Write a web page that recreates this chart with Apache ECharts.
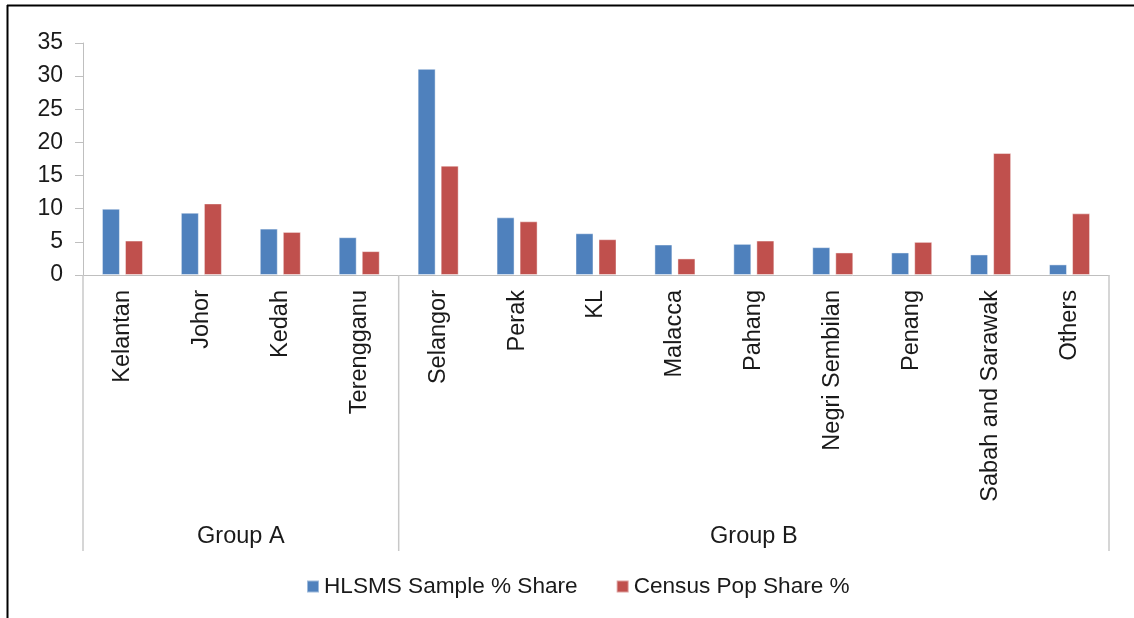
<!DOCTYPE html>
<html>
<head>
<meta charset="utf-8">
<script src="https://cdn.jsdelivr.net/npm/echarts@6/dist/echarts.min.js"></script>
<style>
html,body{margin:0;padding:0;background:#fff;}
#main{width:1134px;height:618px;}
</style>
</head>
<body>
<div id="main"></div>
<script>
// ---- data ----
var categories = ['Kelantan','Johor','Kedah','Terengganu','Selangor','Perak','KL','Malacca','Pahang','Negri Sembilan','Penang','Sabah and Sarawak','Others'];
var hlsmsShare = [10.0, 9.4, 7.0, 5.7, 31.1, 8.7, 6.3, 4.6, 4.7, 4.2, 3.4, 3.1, 1.6];
var censusShare = [5.2, 10.8, 6.5, 3.6, 16.5, 8.1, 5.4, 2.5, 5.2, 3.4, 5.0, 18.4, 9.3];
var seriesNames = ['HLSMS Sample % Share', 'Census Pop Share %'];
var groupNames = ['Group A', 'Group B'];
var groupBounds = [0, 4, 13];
var yTicks = [0, 5, 10, 15, 20, 25, 30, 35];

var FONT = '"Liberation Sans", Arial, sans-serif';
var chart = echarts.init(document.getElementById('main'), null, {renderer: 'canvas'});

// custom data for group separators and labels
var sepData = groupBounds.map(function (b) { return [b, 0]; });
var labelData = groupNames.map(function (n, i) { return [(groupBounds[i] + groupBounds[i + 1]) / 2, 0, n]; });

var option = {
  backgroundColor: '#ffffff',
  animation: false,
  grid: {left: 83, right: 25, top: 43, bottom: 343, containLabel: false},
  legend: {
    data: seriesNames,
    left: 301,
    top: 570,
    icon: 'rect',
    itemWidth: 12,
    itemHeight: 12,
    itemGap: 38,
    textStyle: {fontFamily: FONT, fontSize: 22.6, color: '#1a1a1a', padding: [0, 0, 0, 0]}
  },
  xAxis: [{
    type: 'category',
    data: categories,
    axisLine: {lineStyle: {color: '#bfbfbf', width: 1}},
    axisTick: {show: false},
    axisLabel: {rotate: 90, interval: 0, margin: 15, fontFamily: FONT, fontSize: 23.5, color: '#1a1a1a'},
    splitLine: {show: false}
  }, {
    type: 'value',
    min: 0,
    max: 13,
    show: false
  }],
  yAxis: {
    type: 'value',
    min: 0,
    max: 35,
    interval: 5,
    axisLine: {show: true, lineStyle: {color: '#bfbfbf', width: 1}},
    axisTick: {show: true, length: 8, lineStyle: {color: '#bfbfbf'}},
    axisLabel: {margin: 20, fontFamily: FONT, fontSize: 23, color: '#1a1a1a',
      formatter: function (v) { return yTicks.indexOf(v) >= 0 ? String(v) : ''; }},
    splitLine: {show: false}
  },
  series: [{
    name: seriesNames[0],
    type: 'bar',
    data: hlsmsShare,
    barWidth: 18,
    barGap: '28%',
    itemStyle: {color: '#4F81BD', borderColor: 'rgba(255,255,255,0.45)', borderWidth: 1}
  }, {
    name: seriesNames[1],
    type: 'bar',
    data: censusShare,
    barWidth: 18,
    barGap: '28%',
    itemStyle: {color: '#C0504D', borderColor: 'rgba(255,255,255,0.45)', borderWidth: 1}
  }, {
    type: 'custom',
    xAxisIndex: 1,
    silent: true,
    clip: false,
    data: sepData,
    renderItem: function (params, api) {
      var p = api.coord([api.value(0), 0]);
      return {type: 'line', shape: {x1: p[0], y1: p[1], x2: p[0], y2: p[1] + 276},
        style: {stroke: '#c8c8c8', lineWidth: 1.5}};
    }
  }, {
    type: 'custom',
    xAxisIndex: 1,
    silent: true,
    clip: false,
    data: labelData,
    renderItem: function (params, api) {
      var p = api.coord([api.value(0), 0]);
      return {type: 'text', x: p[0], y: p[1] + 262,
        style: {text: labelData[params.dataIndex][2], fill: '#1a1a1a', font: '23.5px ' + FONT,
          textAlign: 'center', textVerticalAlign: 'middle'}};
    }
  }],
  graphic: [
    {type: 'line', shape: {x1: 7, y1: 5.5, x2: 1134, y2: 5.5}, style: {stroke: '#000', lineWidth: 2}},
    {type: 'line', shape: {x1: 7.5, y1: 5, x2: 7.5, y2: 618}, style: {stroke: '#000', lineWidth: 2}}
  ]
};
chart.setOption(option);
</script>
</body>
</html>
